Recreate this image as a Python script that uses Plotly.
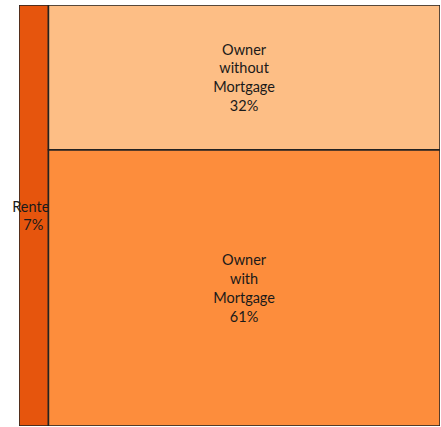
import plotly.graph_objects as go

labels = ["Renter", "Owner<br>with<br>Mortgage", "Owner<br>without<br>Mortgage"]
shares = [7, 61, 32]
colors = ["#E6550D", "#FD8D3C", "#FDBE85"]

renter = shares[0] / 100
owner_total = shares[1] + shares[2]

text_font = dict(family="Lato", size=14.5, color="#1a1a1a")
edge = dict(color="#222222", width=1.5)

fig = go.Figure()
# Renter column
fig.add_trace(go.Bar(
    x=[renter / 2], y=[1], width=[renter], base=[0],
    marker=dict(color=colors[0], line=edge),
    text=[f"{labels[0]}<br>{shares[0]}%"], textposition="inside",
    insidetextanchor="middle", constraintext="none", textangle=0,
    insidetextfont=text_font, cliponaxis=False, hoverinfo="skip",
))
# Owner with mortgage (bottom)
fig.add_trace(go.Bar(
    x=[renter + (1 - renter) / 2], y=[shares[1] / owner_total], width=[1 - renter], base=[0],
    marker=dict(color=colors[1], line=edge),
    text=[f"{labels[1]}<br>{shares[1]}%"], textposition="inside",
    insidetextanchor="middle", constraintext="none", textangle=0,
    insidetextfont=text_font, cliponaxis=False, hoverinfo="skip",
))
# Owner without mortgage (top)
fig.add_trace(go.Bar(
    x=[renter + (1 - renter) / 2], y=[shares[2] / owner_total], width=[1 - renter],
    base=[shares[1] / owner_total],
    marker=dict(color=colors[2], line=edge),
    text=[f"{labels[2]}<br>{shares[2]}%"], textposition="inside",
    insidetextanchor="middle", constraintext="none", textangle=0,
    insidetextfont=text_font, cliponaxis=False, hoverinfo="skip",
))

fig.update_layout(
    width=441, height=427,
    margin=dict(l=19, r=1, t=5, b=1),
    paper_bgcolor="white", plot_bgcolor="white",
    showlegend=False, barmode="overlay",
    font=text_font,
    xaxis=dict(range=[0, 1], visible=False, fixedrange=True),
    yaxis=dict(range=[0, 1], visible=False, fixedrange=True),
)

fig.write_html(
    "out.html",
    config={"displayModeBar": False, "staticPlot": True},
    post_script="document.body.style.margin='0';document.body.style.overflow='hidden';",
)
